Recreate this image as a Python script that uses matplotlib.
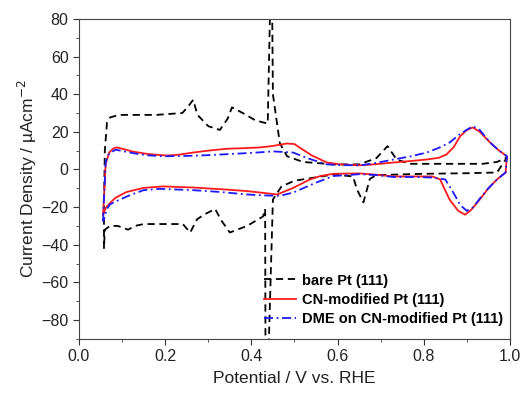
import matplotlib.pyplot as plt
from matplotlib.ticker import MultipleLocator

plt.rcParams['font.family'] = ['Liberation Sans', 'DejaVu Sans']

# bare Pt(111): anodic sweep then cathodic sweep (V, uA/cm2)
bare_v = [0.058, 0.058, 0.060, 0.065, 0.072, 0.085, 0.10, 0.13, 0.18, 0.24, 0.255, 0.265,
          0.275, 0.30, 0.327, 0.345, 0.355, 0.38, 0.41, 0.438, 0.443, 0.447, 0.45, 0.466,
          0.483, 0.52, 0.59, 0.65, 0.69, 0.716, 0.737, 0.768, 0.85, 0.937, 0.97, 0.993,
          0.97, 0.90, 0.80, 0.69, 0.675, 0.66, 0.645, 0.636, 0.59, 0.50, 0.47, 0.45,
          0.437, 0.433, 0.432, 0.427, 0.39, 0.35, 0.33, 0.316, 0.29, 0.274, 0.258, 0.241,
          0.20, 0.15, 0.13, 0.114, 0.09, 0.072, 0.060, 0.058, 0.058]
bare_i = [-42, -20, 10, 25, 27.6, 28.5, 29, 29, 29, 30, 34, 37,
          29, 23, 21, 27, 33, 30, 26, 24.4, 80, 120, 40, 14,
          7, 4, 2.7, 2.7, 6, 12.4, 5.3, 3, 3, 3, 4, 6.3,
          -1.6, -2, -2.3, -3, -5, -17.5, -10.6, -3.7, -2.7, -6, -9, -16,
          -120, -120, -21, -25, -30, -33.5, -27, -21, -24, -26.5, -33.5, -29,
          -29, -29, -30, -32, -30, -30, -32, -42, -42]

# CN-modified Pt(111)
cn_v = [0.056, 0.058, 0.062, 0.070, 0.080, 0.088, 0.10, 0.125, 0.16, 0.204, 0.23, 0.265,
        0.30, 0.343, 0.38, 0.42, 0.45, 0.482, 0.50, 0.513, 0.54, 0.575, 0.61, 0.652,
        0.69, 0.73, 0.77, 0.807, 0.835, 0.853, 0.87, 0.884, 0.90, 0.914, 0.93, 0.954,
        0.975, 0.993, 0.99, 0.97, 0.95, 0.93, 0.91, 0.896, 0.88, 0.86, 0.838, 0.82,
        0.78, 0.73, 0.69, 0.652, 0.59, 0.56, 0.536, 0.497, 0.46, 0.43, 0.39, 0.33,
        0.265, 0.195, 0.15, 0.11, 0.085, 0.072, 0.062, 0.056]
cn_i = [-24, -15, 3, 9, 11.2, 11.7, 11, 9.5, 8.2, 7.4, 7.8, 9,
        10, 11, 11.3, 11.7, 12.5, 13.8, 13.5, 11.5, 7.5, 3.7, 2.6, 2.2,
        2.8, 3.7, 4.5, 5.3, 6.2, 8, 12, 17.5, 21, 22.3, 20, 14.3,
        10, 7, -1.6, -5.3, -10, -16, -21.5, -24, -22, -16, -5.3, -3.7,
        -3.7, -3.7, -2.8, -2.1, -2.3, -3.5, -5.3, -9.8, -13.3, -12.5, -11.5, -10.5,
        -9.6, -9, -9.8, -12, -15, -17.8, -20.5, -24]

# DME on CN-modified Pt(111)
dme_v = [0.056, 0.058, 0.062, 0.070, 0.085, 0.10, 0.13, 0.16, 0.20, 0.25, 0.30, 0.35,
         0.40, 0.45, 0.497, 0.53, 0.575, 0.61, 0.652, 0.69, 0.73, 0.77, 0.807, 0.835,
         0.86, 0.885, 0.914, 0.93, 0.954, 0.975, 0.993, 0.99, 0.97, 0.95, 0.93, 0.915,
         0.90, 0.885, 0.868, 0.85, 0.82, 0.78, 0.73, 0.69, 0.652, 0.59, 0.55, 0.497,
         0.466, 0.43, 0.39, 0.33, 0.265, 0.188, 0.15, 0.12, 0.09, 0.072, 0.065, 0.056]
dme_i = [-27.6, -15, 4, 8.5, 10.5, 9.8, 8.5, 7.5, 7, 7.2, 7.6, 8.2,
         8.8, 9.6, 9, 6, 2.7, 2.3, 2.2, 3.5, 5.3, 7, 9, 11.5,
         14.3, 19, 23, 21, 14.3, 10, 7, -1.6, -5.3, -10, -15.5, -20,
         -22, -19, -12, -5.3, -4.3, -4, -4, -3, -2.5, -3.5, -7, -12.3,
         -14, -13.8, -13.3, -12, -11, -10.3, -11, -13.5, -16.5, -18.5, -21, -27.6]

labels = ['bare Pt (111)', 'CN-modified Pt (111)', 'DME on CN-modified Pt (111)']

fig = plt.figure(figsize=(5.23, 3.94), dpi=100)
ax = fig.add_axes([0.151, 0.140, 0.824, 0.812])

ax.plot(bare_v, bare_i, color='black', ls=(0, (4, 2.6)), lw=1.3, label=labels[0])
ax.plot(cn_v, cn_i, color='#ff1a1a', ls='-', lw=1.3, label=labels[1])
ax.plot(dme_v, dme_i, color='#1a1aff', ls=(0, (5, 2, 1, 2)), lw=1.3, label=labels[2])

ax.set_xlim(0.0, 1.0)
ax.set_ylim(-90, 80)
ax.xaxis.set_major_locator(MultipleLocator(0.2))
ax.xaxis.set_minor_locator(MultipleLocator(0.1))
ax.yaxis.set_major_locator(MultipleLocator(20))
ax.yaxis.set_minor_locator(MultipleLocator(10))
ax.set_xticks([0, 0.2, 0.4, 0.6, 0.8, 1.0], ['0.0', '0.2', '0.4', '0.6', '0.8', '1.0'])
ax.tick_params(direction='out', which='major', length=4, labelsize=11.5, colors='#333333', labelcolor='#222222')
ax.tick_params(direction='out', which='minor', length=2.5, colors='#333333')
for s in ax.spines.values():
    s.set_color('#444444')

ax.set_xlabel('Potential / V vs. RHE', fontsize=12.5, color='#222222', labelpad=5)
ax.set_ylabel('Current Density / µAcm$^{-2}$', fontsize=12.5, color='#222222', labelpad=2)

leg = ax.legend(loc='lower right', frameon=False, prop={'weight': 'bold', 'size': 10.5},
                handlelength=2.2, handletextpad=0.35, labelspacing=0.35,
                borderaxespad=0.1, bbox_to_anchor=(1.0, 0.018))

fig.savefig('out.png', dpi=100)
